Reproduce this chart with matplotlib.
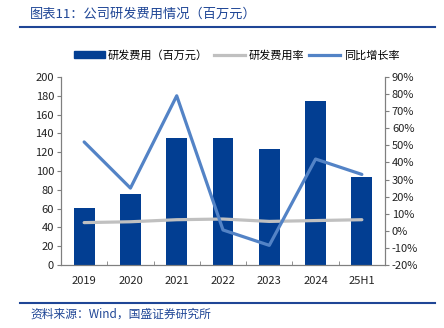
import numpy as np
import matplotlib
matplotlib.use('Agg')
import matplotlib.pyplot as plt
from matplotlib.lines import Line2D
from matplotlib.patches import Patch
from matplotlib.ticker import FuncFormatter

plt.rcParams['font.family'] = ['Noto Sans CJK SC', 'DejaVu Sans']

years = ['2019', '2020', '2021', '2022', '2023', '2024', '25H1']
rd_cost = [61, 76, 135, 135, 123, 174, 94]          # 百万元
rd_ratio = [4.8, 5.3, 6.5, 6.9, 5.5, 6.0, 6.5]     # %
yoy = [52, 25, 79, 0.5, -8.5, 42, 33]              # %

bar_c = '#023E92'
yoy_c = '#5383C6'
ratio_c = '#C0C0C0'
blue_txt = '#1F4696'
ax_c = '#7F7F7F'

fig = plt.figure(figsize=(4.44, 3.28), dpi=100)
ax = fig.add_axes([61/444, 1-265/328, 324/444, 188/328])
ax2 = ax.twinx()

x = np.arange(len(years))
ax.bar(x, rd_cost, width=0.45, color=bar_c, zorder=2)
ax2.plot(x, rd_ratio, color=ratio_c, lw=2.3, solid_capstyle='round')
ax2.plot(x, yoy, color=yoy_c, lw=2.3, solid_capstyle='round')

ax.set_xlim(-0.5, len(years)-0.5)
ax.set_ylim(0, 200)
ax.set_yticks(range(0, 201, 20))
ax2.set_ylim(-20, 90)
ax2.set_yticks(range(-20, 91, 10))
ax2.yaxis.set_major_formatter(FuncFormatter(lambda v, p: '%d%%' % v))

ax.set_xticks(x)
ax.set_xticklabels(years)
ax.set_xticks(np.arange(-0.5, len(years)), minor=True)
ax.tick_params(axis='x', which='major', length=0, pad=8)
ax.tick_params(axis='x', which='minor', direction='in', length=3, color=ax_c)
ax.tick_params(axis='y', direction='out', length=3, color=ax_c, pad=2)
ax2.tick_params(axis='y', direction='out', length=3, color=ax_c, pad=2)
for a in (ax, ax2):
    a.tick_params(labelsize=8, labelcolor='#222222')
    a.spines['top'].set_visible(False)
    for s in ('left', 'right', 'bottom'):
        a.spines[s].set_color(ax_c)
        a.spines[s].set_linewidth(0.8)
ax.set_zorder(ax2.get_zorder() - 1)
ax2.patch.set_visible(False)

handles = [Patch(color=bar_c), Line2D([], [], color=ratio_c, lw=2.3),
           Line2D([], [], color=yoy_c, lw=2.3)]
labels = ['研发费用（百万元）', '研发费用率', '同比增长率']
fig.legend(handles, labels, loc='center', bbox_to_anchor=(236.5/444, 1-55/328),
           ncol=3, frameon=False, fontsize=8, handlelength=2.8,
           handleheight=0.6, handletextpad=0.3, columnspacing=0.5)

fig.text(30/444, 1-14/328, '图表11：公司研发费用情况（百万元）', fontsize=9.5,
         color=blue_txt, style='italic', va='center', ha='left')
fig.add_artist(Line2D([20/444, 435/444], [1-27/328, 1-27/328], color=blue_txt, lw=1.5))
fig.add_artist(Line2D([20/444, 435/444], [1-303/328, 1-303/328], color=blue_txt, lw=1.5))
fig.text(30/444, 1-314/328, '资料来源：Wind，国盛证券研究所', fontsize=8.5,
         color=blue_txt, style='italic', va='center', ha='left')

fig.savefig('out.png', dpi=100)
